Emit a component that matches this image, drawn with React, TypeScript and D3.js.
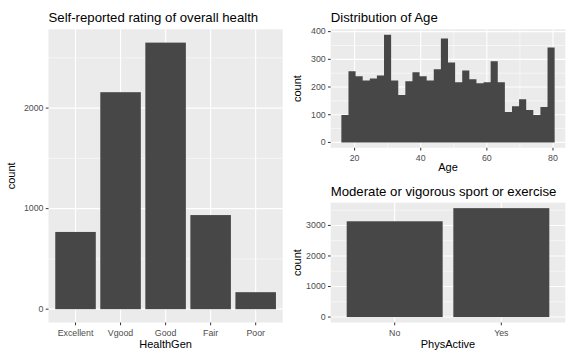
import React from "react";
import * as d3 from "d3";

const healthCats = ["Excellent", "Vgood", "Good", "Fair", "Poor"];
const healthCounts = [768, 2158, 2651, 936, 169];
const healthTicks = [0, 1000, 2000];
const healthMinor = [500, 1500, 2500];

const ageBinStart = 16;
const ageBinWidth = 2.15;
const ageCounts = [99, 257, 239, 224, 231, 242, 389, 224, 171, 221, 253, 239, 224, 264, 375, 289, 217, 260, 228, 214, 217, 293, 217, 110, 131, 156, 117, 99, 128, 343];
const ageXTicks = [20, 40, 60, 80];
const ageXMinor = [30, 50, 70];
const ageYTicks = [0, 100, 200, 300, 400];
const ageYMinor = [50, 150, 250, 350];

const activeCats = ["No", "Yes"];
const activeCounts = [3136, 3566];
const activeTicks = [0, 1000, 2000, 3000];
const activeMinor = [500, 1500, 2500, 3500];

const FONT = "'Liberation Sans', Arial, Helvetica, sans-serif";
const BAR = "#474747";
const PANEL = "#EBEBEB";
const TICKCOL = "#333333";
const TEXTCOL = "#4D4D4D";

type Box = { x0: number; x1: number; y0: number; y1: number };

function YAxis({ box, y, ticks, minor }: { box: Box; y: d3.ScaleLinear<number, number>; ticks: number[]; minor: number[] }) {
  return (
    <g>
      {minor.map((t) => (
        <line key={"m" + t} x1={box.x0} x2={box.x1} y1={y(t)} y2={y(t)} stroke="#fff" strokeWidth={0.55} />
      ))}
      {ticks.map((t) => (
        <line key={"g" + t} x1={box.x0} x2={box.x1} y1={y(t)} y2={y(t)} stroke="#fff" strokeWidth={1.1} />
      ))}
    </g>
  );
}

function YLabels({ box, y, ticks, titleX }: { box: Box; y: d3.ScaleLinear<number, number>; ticks: number[]; titleX: number }) {
  return (
    <g>
      {ticks.map((t) => (
        <g key={t}>
          <line x1={box.x0 - 2.75} x2={box.x0} y1={y(t)} y2={y(t)} stroke={TICKCOL} strokeWidth={1} />
          <text x={box.x0 - 5} y={y(t)} dy="0.32em" textAnchor="end" fontSize={8.8} fill={TEXTCOL} fontFamily={FONT}>
            {t}
          </text>
        </g>
      ))}
      <text
        transform={`translate(${titleX},${(box.y0 + box.y1) / 2}) rotate(-90)`}
        textAnchor="middle"
        fontSize={11}
        fill="#000"
        fontFamily={FONT}
      >
        count
      </text>
    </g>
  );
}

export default function App() {
  // Left: HealthGen
  const b1: Box = { x0: 48.5, x1: 282.7, y0: 29.3, y1: 322.5 };
  const x1 = d3.scaleBand<string>().domain(healthCats).range([b1.x0, b1.x1]).paddingInner(0.1).paddingOuter(0.15);
  const max1 = d3.max(healthCounts)!;
  const y1 = d3.scaleLinear().domain([-0.05 * max1, max1 * 1.05]).range([b1.y1, b1.y0]);

  // Top right: Age histogram
  const b2: Box = { x0: 330.7, x1: 565.3, y0: 29.3, y1: 147.8 };
  const ageEnd = ageBinStart + ageBinWidth * ageCounts.length;
  const ageSpan = ageEnd - ageBinStart;
  const x2 = d3.scaleLinear().domain([ageBinStart - 0.05 * ageSpan, ageEnd + 0.05 * ageSpan]).range([b2.x0, b2.x1]);
  const max2 = d3.max(ageCounts)!;
  const y2 = d3.scaleLinear().domain([-0.05 * max2, max2 * 1.05]).range([b2.y1, b2.y0]);
  const histPts: [number, number][] = ageCounts.map((v, i) => [ageBinStart + i * ageBinWidth, v]);
  histPts.push([ageEnd, ageCounts[ageCounts.length - 1]]);
  const histArea = d3
    .area<[number, number]>()
    .x((d) => x2(d[0]))
    .y0(y2(0))
    .y1((d) => y2(d[1]))
    .curve(d3.curveStepAfter);

  // Bottom right: PhysActive
  const b3: Box = { x0: 330.7, x1: 565.3, y0: 202.7, y1: 322.5 };
  const x3 = d3.scaleBand<string>().domain(activeCats).range([b3.x0, b3.x1]).paddingInner(0.1).paddingOuter(0.15);
  const max3 = d3.max(activeCounts)!;
  const y3 = d3.scaleLinear().domain([-0.05 * max3, max3 * 1.05]).range([b3.y1, b3.y0]);

  return (
    <svg width={576} height={360} style={{ position: "absolute", left: 0, top: 0, background: "#fff" }} fontFamily={FONT}>
      <rect x={0} y={0} width={576} height={360} fill="#fff" />

      {/* Panel 1 */}
      <text x={b1.x0} y={22} fontSize={13.2} fill="#000">Self-reported rating of overall health</text>
      <rect x={b1.x0} y={b1.y0} width={b1.x1 - b1.x0} height={b1.y1 - b1.y0} fill={PANEL} />
      <YAxis box={b1} y={y1} ticks={healthTicks} minor={healthMinor} />
      {healthCats.map((c) => (
        <line key={c} x1={x1(c)! + x1.bandwidth() / 2} x2={x1(c)! + x1.bandwidth() / 2} y1={b1.y0} y2={b1.y1} stroke="#fff" strokeWidth={1.1} />
      ))}
      {healthCats.map((c, i) => (
        <rect key={c} x={x1(c)!} width={x1.bandwidth()} y={y1(healthCounts[i])} height={y1(0) - y1(healthCounts[i])} fill={BAR} />
      ))}
      <YLabels box={b1} y={y1} ticks={healthTicks} titleX={15} />
      {healthCats.map((c) => {
        const cx = x1(c)! + x1.bandwidth() / 2;
        return (
          <g key={c}>
            <line x1={cx} x2={cx} y1={b1.y1} y2={b1.y1 + 2.75} stroke={TICKCOL} />
            <text x={cx} y={335.5} textAnchor="middle" fontSize={8.8} fill={TEXTCOL}>{c}</text>
          </g>
        );
      })}
      <text x={(b1.x0 + b1.x1) / 2} y={348} textAnchor="middle" fontSize={11} fill="#000">HealthGen</text>

      {/* Panel 2 */}
      <text x={b2.x0} y={22} fontSize={13.2} fill="#000">Distribution of Age</text>
      <rect x={b2.x0} y={b2.y0} width={b2.x1 - b2.x0} height={b2.y1 - b2.y0} fill={PANEL} />
      <YAxis box={b2} y={y2} ticks={ageYTicks} minor={ageYMinor} />
      {ageXMinor.map((t) => (
        <line key={"xm" + t} x1={x2(t)} x2={x2(t)} y1={b2.y0} y2={b2.y1} stroke="#fff" strokeWidth={0.55} />
      ))}
      {ageXTicks.map((t) => (
        <line key={"xg" + t} x1={x2(t)} x2={x2(t)} y1={b2.y0} y2={b2.y1} stroke="#fff" strokeWidth={1.1} />
      ))}
      <path d={histArea(histPts) || ""} fill={BAR} />
      <YLabels box={b2} y={y2} ticks={ageYTicks} titleX={301} />
      {ageXTicks.map((t) => (
        <g key={t}>
          <line x1={x2(t)} x2={x2(t)} y1={b2.y1} y2={b2.y1 + 2.75} stroke={TICKCOL} />
          <text x={x2(t)} y={160.5} textAnchor="middle" fontSize={8.8} fill={TEXTCOL}>{t}</text>
        </g>
      ))}
      <text x={(b2.x0 + b2.x1) / 2} y={171} textAnchor="middle" fontSize={11} fill="#000">Age</text>

      {/* Panel 3 */}
      <text x={b3.x0} y={196} fontSize={13.2} fill="#000">Moderate or vigorous sport or exercise</text>
      <rect x={b3.x0} y={b3.y0} width={b3.x1 - b3.x0} height={b3.y1 - b3.y0} fill={PANEL} />
      <YAxis box={b3} y={y3} ticks={activeTicks} minor={activeMinor} />
      {activeCats.map((c) => (
        <line key={c} x1={x3(c)! + x3.bandwidth() / 2} x2={x3(c)! + x3.bandwidth() / 2} y1={b3.y0} y2={b3.y1} stroke="#fff" strokeWidth={1.1} />
      ))}
      {activeCats.map((c, i) => (
        <rect key={c} x={x3(c)!} width={x3.bandwidth()} y={y3(activeCounts[i])} height={y3(0) - y3(activeCounts[i])} fill={BAR} />
      ))}
      <YLabels box={b3} y={y3} ticks={activeTicks} titleX={301} />
      {activeCats.map((c) => {
        const cx = x3(c)! + x3.bandwidth() / 2;
        return (
          <g key={c}>
            <line x1={cx} x2={cx} y1={b3.y1} y2={b3.y1 + 2.75} stroke={TICKCOL} />
            <text x={cx} y={335.5} textAnchor="middle" fontSize={8.8} fill={TEXTCOL}>{c}</text>
          </g>
        );
      })}
      <text x={(b3.x0 + b3.x1) / 2} y={348} textAnchor="middle" fontSize={11} fill="#000">PhysActive</text>
    </svg>
  );
}
